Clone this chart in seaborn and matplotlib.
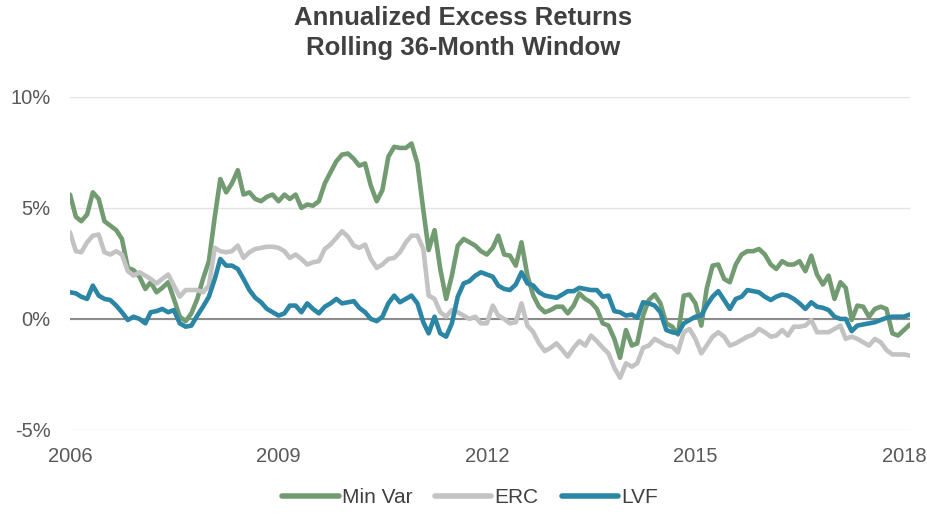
"""
Annualized excess returns, rolling 36-month window (Min Var / ERC / LVF).
Values read off the reference chart, monthly Jan 2006 - Feb 2018, in percent.
"""

import numpy as np
import pandas as pd
import matplotlib
matplotlib.use("Agg")
import matplotlib.pyplot as plt
import matplotlib.ticker as mticker
import matplotlib.dates as mdates
import seaborn as sns

DATES = pd.date_range("2006-01-01", "2018-02-01", freq="MS")

MIN_VAR = [
    5.6, 4.6, 4.4, 4.7, 5.7, 5.4, 4.4, 4.2, 4.0, 3.6, 2.3, 2.2,
    1.9, 1.35, 1.65, 1.2, 1.4, 1.65, 0.9, 0.1, -0.1, 0.25, 0.9, 1.8,
    2.6, 4.6, 6.3, 5.7, 6.1, 6.7, 5.6, 5.7, 5.4, 5.3, 5.5, 5.6,
    5.3, 5.6, 5.4, 5.6, 5.0, 5.15, 5.1, 5.3, 6.1, 6.6, 7.1, 7.4,
    7.45, 7.2, 6.9, 7.0, 6.0, 5.3, 5.8, 7.3, 7.75, 7.7, 7.7, 7.9,
    7.0, 4.9, 3.1, 4.0, 2.25, 0.9, 1.95, 3.3, 3.6, 3.45, 3.3, 3.05,
    2.9, 3.2, 3.75, 2.9, 2.85, 2.4, 3.45, 1.95, 1.05, 0.55, 0.3, 0.4,
    0.55, 0.55, 0.25, 0.6, 1.15, 0.9, 0.75, 0.45, -0.2, -0.3, -0.9, -1.75,
    -0.5, -1.2, -1.1, 0.15, 0.85, 1.1, 0.7, -0.2, -0.35, -0.7, 1.05, 1.1,
    0.7, -0.3, 1.35, 2.4, 2.45, 1.8, 1.65, 2.45, 2.9, 3.05, 3.05, 3.15,
    2.9, 2.45, 2.25, 2.6, 2.45, 2.45, 2.6, 2.15, 2.85, 2.0, 1.55, 1.95,
    0.9, 1.65, 1.4, -0.05, 0.6, 0.55, 0.1, 0.45, 0.55, 0.45, -0.65, -0.75,
    -0.5, -0.25,
]

ERC = [
    3.9, 3.05, 3.0, 3.45, 3.75, 3.8, 3.0, 2.9, 3.05, 2.9, 2.15, 1.95,
    2.1, 1.95, 1.8, 1.6, 1.8, 2.0, 1.5, 1.0, 1.3, 1.3, 1.3, 1.2,
    1.5, 3.2, 3.05, 3.0, 3.05, 3.3, 2.75, 3.0, 3.15, 3.2, 3.25, 3.25,
    3.2, 3.05, 2.75, 2.9, 2.7, 2.45, 2.55, 2.6, 3.15, 3.35, 3.65, 3.95,
    3.7, 3.3, 3.2, 3.35, 2.7, 2.3, 2.45, 2.7, 2.75, 3.0, 3.45, 3.75,
    3.75, 3.15, 1.05, 0.9, 0.3, 0.1, 0.4, 0.3, 0.15, 0.0, 0.1, -0.2,
    -0.2, 0.6, 0.15, 0.0, -0.2, -0.15, 0.7, -0.3, -0.6, -1.1, -1.45, -1.3,
    -1.1, -1.4, -1.7, -1.3, -1.0, -1.2, -0.75, -1.0, -1.3, -1.55, -2.2, -2.65,
    -2.0, -2.15, -2.0, -1.3, -1.2, -0.9, -1.05, -1.2, -1.25, -1.5, -0.6, -0.45,
    -0.9, -1.55, -1.2, -0.8, -0.6, -0.8, -1.2, -1.1, -0.95, -0.8, -0.7, -0.45,
    -0.6, -0.8, -0.75, -0.5, -0.75, -0.35, -0.35, -0.3, -0.05, -0.6, -0.6, -0.6,
    -0.45, -0.3, -0.9, -0.8, -0.9, -1.05, -1.2, -0.9, -1.05, -1.4, -1.6, -1.6,
    -1.6, -1.65,
]

LVF = [
    1.2, 1.15, 1.0, 0.9, 1.5, 1.05, 0.9, 0.85, 0.6, 0.3, -0.05, 0.1,
    0.0, -0.2, 0.3, 0.35, 0.45, 0.3, 0.4, -0.2, -0.35, -0.3, 0.15, 0.55,
    1.0, 1.8, 2.7, 2.4, 2.4, 2.25, 1.8, 1.3, 0.95, 0.75, 0.45, 0.3,
    0.15, 0.25, 0.6, 0.6, 0.3, 0.7, 0.45, 0.25, 0.55, 0.7, 0.9, 0.7,
    0.75, 0.8, 0.5, 0.3, 0.0, -0.1, 0.1, 0.7, 1.05, 0.75, 0.9, 1.05,
    0.7, -0.15, -0.65, 0.1, -0.65, -0.8, -0.2, 1.0, 1.6, 1.7, 1.95, 2.1,
    2.0, 1.9, 1.5, 1.35, 1.3, 1.55, 2.1, 1.6, 1.5, 1.2, 1.05, 1.0,
    0.95, 1.1, 1.25, 1.25, 1.4, 1.35, 1.3, 1.3, 1.0, 1.05, 0.35, 0.3,
    0.15, 0.2, 0.05, 0.75, 0.7, 0.6, 0.3, -0.5, -0.6, -0.65, -0.2, -0.05,
    0.1, 0.15, 0.6, 1.0, 1.25, 0.85, 0.45, 0.9, 1.0, 1.3, 1.25, 1.2,
    1.0, 0.85, 1.0, 1.1, 1.05, 0.9, 0.7, 0.45, 0.75, 0.55, 0.5, 0.4,
    0.1, 0.0, 0.0, -0.55, -0.3, -0.25, -0.2, -0.15, -0.05, 0.05, 0.1, 0.1,
    0.1, 0.2,
]

SERIES = ["Min Var", "ERC", "LVF"]
COLORS = {"Min Var": "#729b72", "ERC": "#c3c3c3", "LVF": "#2b86a6"}
YTICKS = [-5, 0, 5, 10]
XYEARS = [2006, 2009, 2012, 2015, 2018]

df = pd.DataFrame({"date": DATES, "Min Var": MIN_VAR, "ERC": ERC, "LVF": LVF})
long = df.melt(id_vars="date", var_name="series", value_name="ret")

sns.set_style("white")
plt.rcParams["font.family"] = ["Liberation Sans", "DejaVu Sans"]

fig = plt.figure(figsize=(9.27, 5.18), dpi=100)
ax = fig.add_axes([0.0755, 0.170, 0.906, 0.643])

for v in YTICKS:
    ax.axhline(v, color="#e3e3e3", lw=1.0, zorder=0)
ax.axhline(0, color="#8c8c8c", lw=1.5, zorder=1)

sns.lineplot(
    data=long, x="date", y="ret", hue="series", hue_order=SERIES,
    palette=COLORS, linewidth=3.3, ax=ax, legend=False,
)

ax.set_xlim(DATES[0], DATES[-1])
ax.set_ylim(-5, 10)
ax.set_yticks(YTICKS)
ax.yaxis.set_major_formatter(mticker.FuncFormatter(lambda v, _: f"{v:.0f}%"))
ax.set_xticks([pd.Timestamp(f"{y}-01-01") for y in XYEARS])
ax.xaxis.set_major_formatter(mdates.DateFormatter("%Y"))
ax.tick_params(axis="both", length=0, labelsize=14.5, colors="#595959")
ax.tick_params(axis="y", pad=14)
ax.tick_params(axis="x", pad=12)
ax.set_xlabel("")
ax.set_ylabel("")
sns.despine(ax=ax, left=True, bottom=True)

fig.text(0.5, 0.988, "Annualized Excess Returns\nRolling 36-Month Window",
         ha="center", va="top", fontsize=18.5, fontweight="bold",
         color="#404040", linespacing=1.3)

handles = [plt.Line2D([], [], color=COLORS[s], lw=4) for s in SERIES]
fig.legend(handles, SERIES, loc="lower center", bbox_to_anchor=(0.507, -0.015),
           ncol=3, frameon=False, fontsize=15, handlelength=2.7,
           handletextpad=0.15, columnspacing=1.1, labelcolor="#404040")

fig.savefig("out.png", dpi=100)
